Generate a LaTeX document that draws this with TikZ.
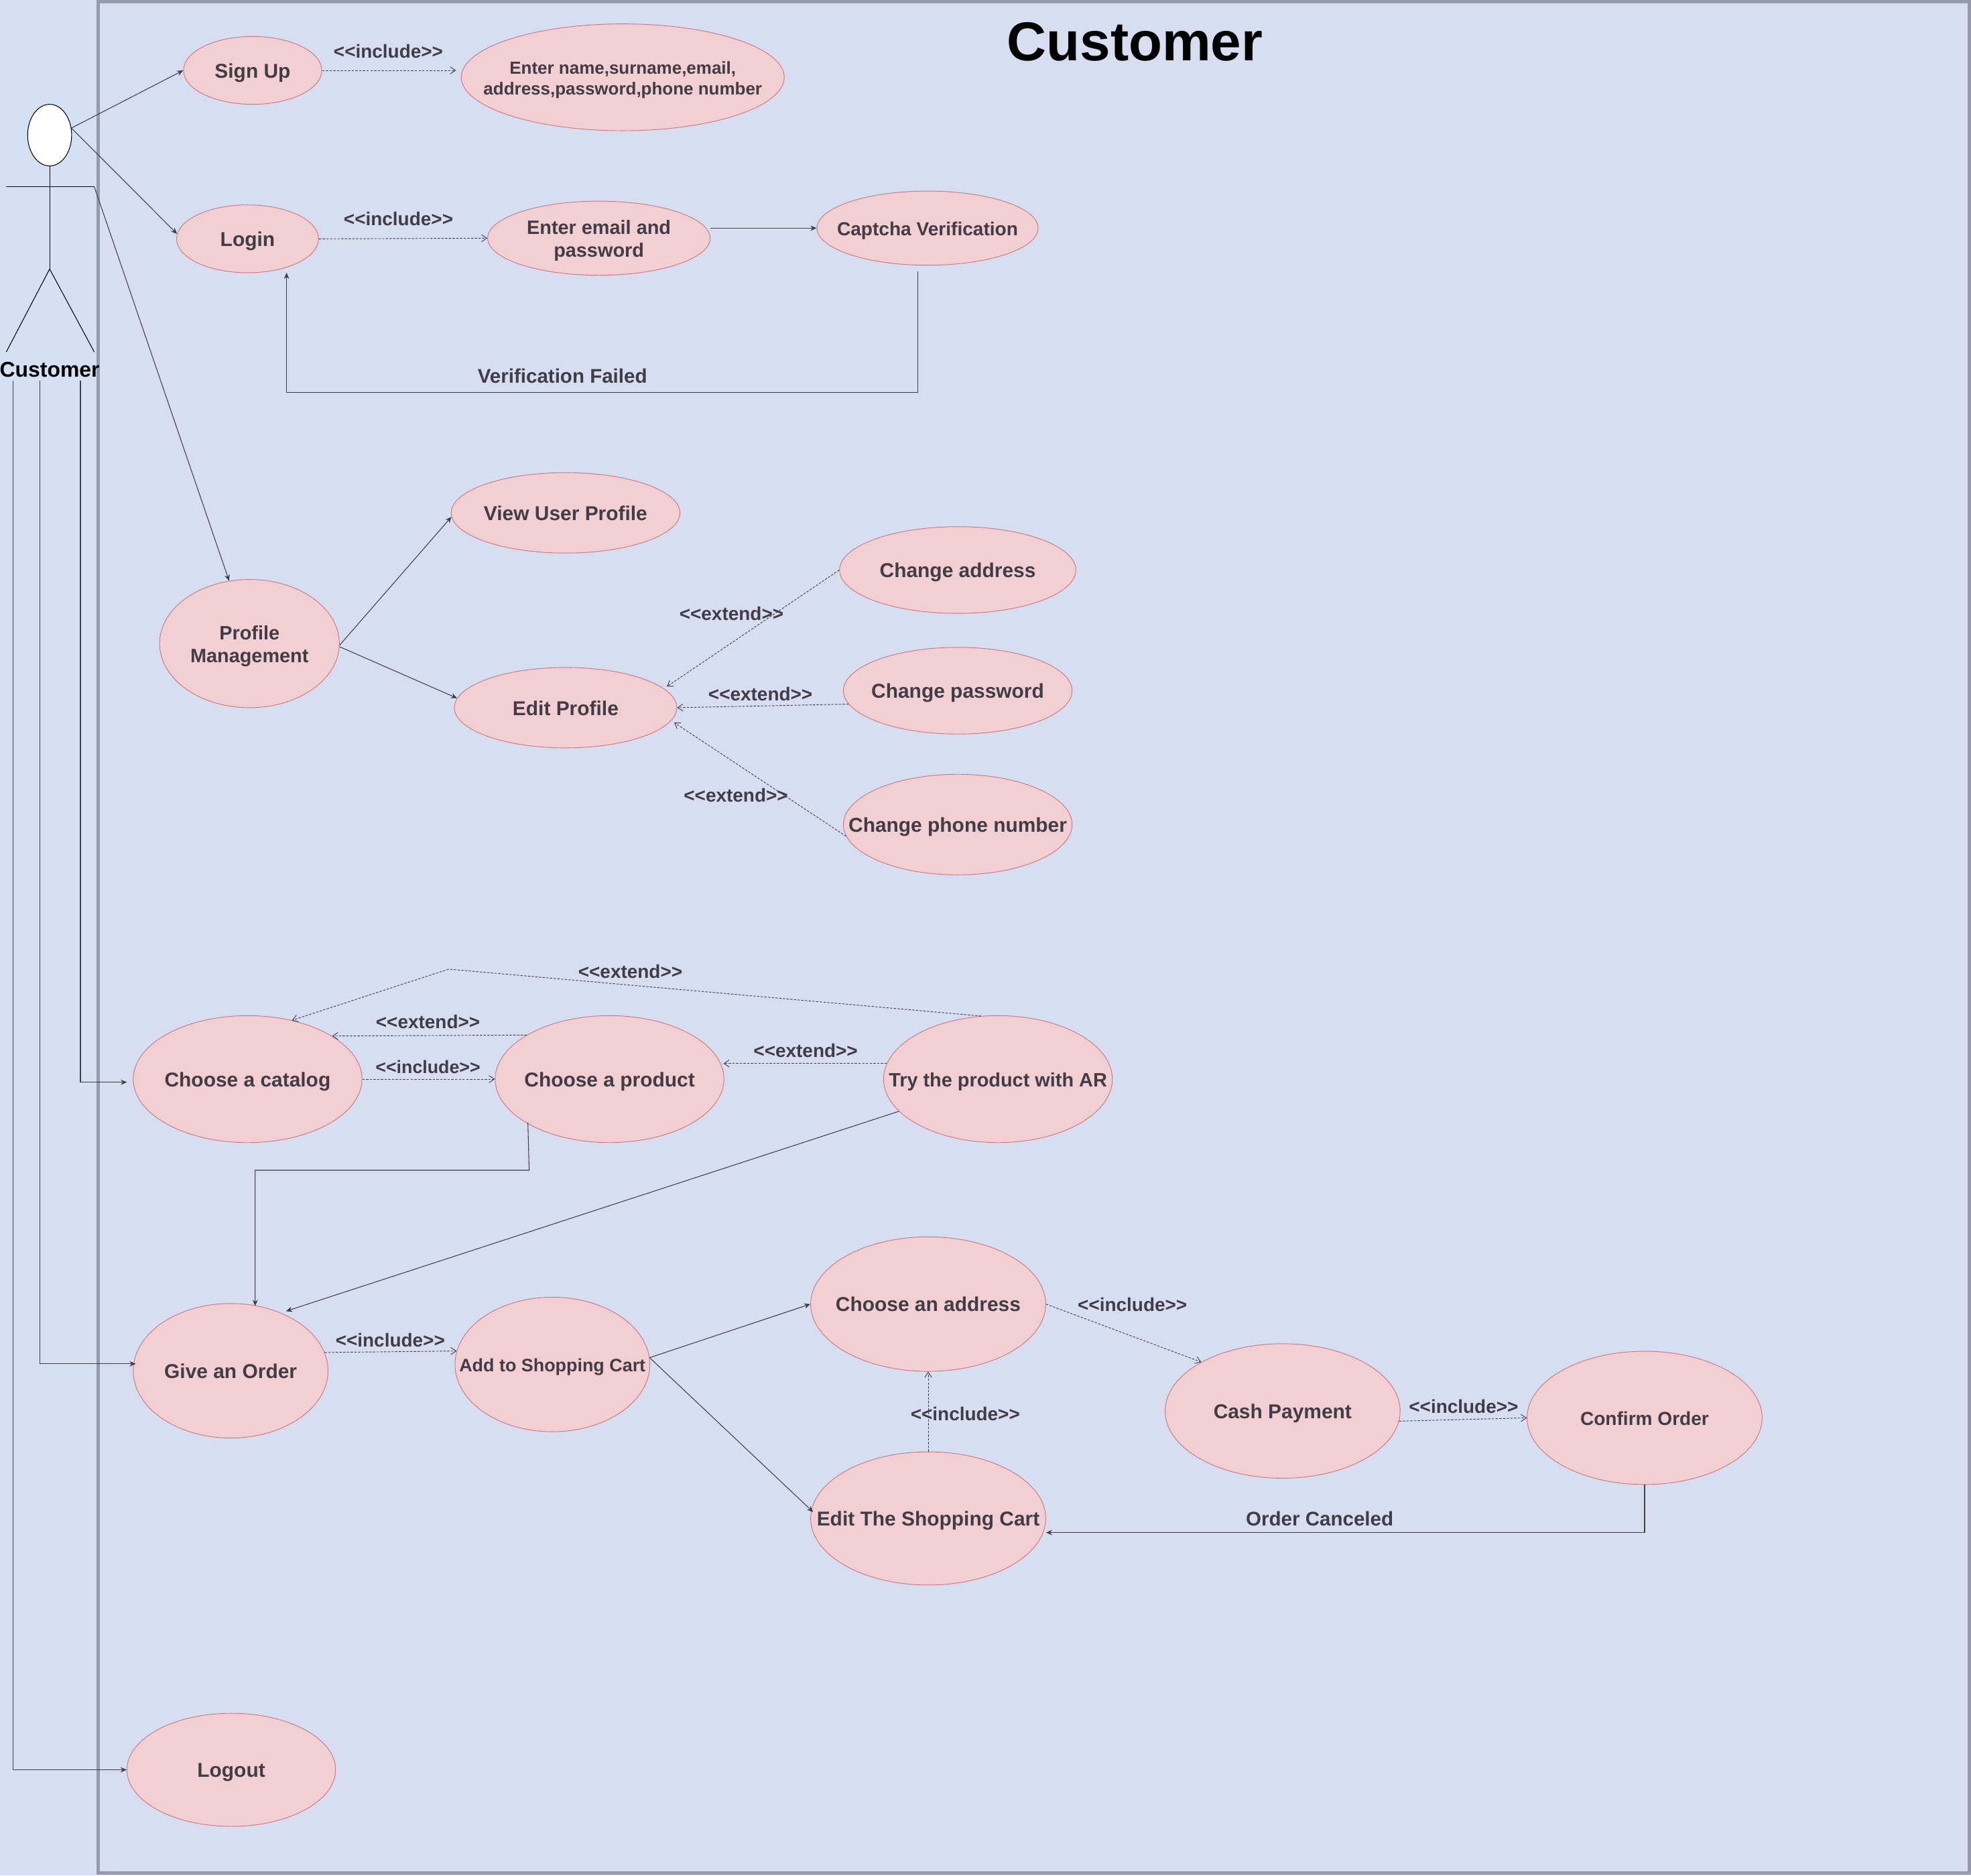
\documentclass[tikz,border=0pt]{standalone}
\usepackage{fontspec}
\usepackage{array}
\setmainfont{Liberation Sans}[Ligatures=TeXOff]
\usetikzlibrary{shapes.geometric,arrows.meta}

\definecolor{outerblue}{HTML}{D4E1F5}
\definecolor{panelblue}{HTML}{D8DEF2}
\definecolor{panelline}{HTML}{959BAD}
\definecolor{casefill}{HTML}{F1CFD3}
\definecolor{caseline}{HTML}{C9767F}
\definecolor{inktext}{HTML}{413C46}

\newcommand{\casetext}[1]{\makebox[0pt]{\raisebox{-8.6pt}[0pt][0pt]{\begin{tabular}{@{}c@{}}#1\end{tabular}}}}

\tikzset{
  usecase/.style 2 args={draw=caseline, fill=casefill, shape=ellipse, inner sep=0pt, line width=0.7pt,
    minimum width=#1*0.05cm, minimum height=#2*0.05cm, text=inktext,
    font=\bfseries\fontsize{22.7}{25.5}\selectfont},
  pairfont/.style={font=\bfseries\fontsize{21.9}{25.5}\selectfont},
  midfont/.style={font=\bfseries\fontsize{21.3}{25.5}\selectfont},
  smallfont/.style={font=\bfseries\fontsize{20.4}{24}\selectfont},
  tinyfont/.style={font=\bfseries\fontsize{19.7}{24}\selectfont},
  tag/.style={text=inktext, inner sep=0pt, font=\bfseries\fontsize{21.2}{25}\selectfont},
  note/.style={text=inktext, inner sep=0pt, font=\bfseries\fontsize{22.4}{25}\selectfont},
  flow/.style={draw=inktext, line width=0.8pt, -{Stealth[length=7pt,width=6pt]}},
  dep/.style={draw=inktext, line width=0.7pt, dash pattern=on 2.6pt off 1.6pt,
    -{Straight Barb[length=6pt,width=8pt]}},
  actorline/.style={draw=black, line width=0.8pt}
}

\begin{document}
\begin{tikzpicture}[x=0.05cm, y=-0.05cm]
\useasboundingbox (0,0) rectangle (1568.2,1492);

\fill[outerblue] (0,0) rectangle (1568.2,1492);
\draw[panelline, fill=panelblue, line width=3.8pt] (78.2,1.2) rectangle (1566.9,1490);

\node[font=\bfseries\fontsize{62}{70}\selectfont, inner sep=0pt] (title) at (903,33) {Customer};

%actor
\node[draw=black, fill=white, shape=ellipse, inner sep=0pt, line width=0.8pt,
  minimum width=35*0.05cm, minimum height=49*0.05cm] (head) at (39.5,107.5) {};
\coordinate (hip) at (39.5,214);
\coordinate (armL) at (5,148.5);
\coordinate (armR) at (75,148.5);
\coordinate (legL) at (5,280);
\coordinate (legR) at (75,280);
\draw[actorline] (head.south) to (hip);
\draw[actorline] (armL) to (armR);
\draw[actorline] (legL) to (hip);
\draw[actorline] (hip) to (legR);
\node[font=\bfseries\fontsize{24.2}{28}\selectfont, inner sep=0pt] (actor) at (39.5,294) {Customer};
\coordinate (downA) at (10.5,303);
\coordinate (downB) at (31.5,303);
\coordinate (downC) at (64,303);

%use cases
\node[usecase={110}{54}] (signup) at (201,56) {\casetext{Sign Up}};
\node[usecase={257}{85}, tinyfont] (details) at (495.5,61.5) {\casetext{Enter name,surname,email,\\address,password,phone number}};
\node[usecase={113}{54}] (login) at (197,190) {\casetext{Login}};
\node[usecase={177}{59}, pairfont] (credentials) at (476.5,189.5) {\casetext{Enter email and\\password\hspace{4pt}}};
\node[usecase={176}{59}, midfont] (captcha) at (738,181.5) {\casetext{Captcha Verification}};

\node[usecase={143}{102}, pairfont] (profile) at (198.5,512) {\casetext{Profile\\Management}};
\node[usecase={182}{64}] (viewuser) at (450,408) {\casetext{View User Profile}};
\node[usecase={177}{64}] (editprofile) at (450,563) {\casetext{Edit Profile}};
\node[usecase={188}{69}] (address) at (762,453.5) {\casetext{Change address}};
\node[usecase={182}{69}] (password) at (762,549.5) {\casetext{Change password}};
\node[usecase={182}{80}] (phone) at (762,656) {\casetext{Change phone number}};

\node[usecase={182}{101}] (catalog) at (197,858.5) {\casetext{Choose a catalog}};
\node[usecase={182}{101}] (product) at (485,858.5) {\casetext{Choose a product}};
\node[usecase={182}{101}, pairfont] (tryar) at (794,858.5) {\casetext{Try the product with AR}};

\node[usecase={155}{107}] (order) at (183.5,1090.5) {\casetext{Give an Order}};
\node[usecase={155}{107}, smallfont] (cart) at (439.5,1085.5) {\casetext{Add to Shopping Cart}};
\node[usecase={187}{107}] (chooseaddr) at (738.5,1037.5) {\casetext{Choose an address}};
\node[usecase={187}{106}] (editcart) at (738.5,1208) {\casetext{Edit The Shopping Cart}};
\node[usecase={187}{107}] (cash) at (1020.5,1122.5) {\casetext{Cash Payment}};
\node[usecase={187}{106}, midfont] (confirm) at (1308.5,1128) {\casetext{Confirm Order}};

\node[usecase={166}{90}] (logout) at (184,1408) {\casetext{Logout}};

%labels
\node[tag] (t1) at (309,41) {<<include>>};
\node[tag] (t2) at (317,174) {<<include>>};
\node[note] (t3) at (447.5,299) {Verification Failed};
\node[tag] (t4) at (582,488) {<<extend>>};
\node[tag] (t5) at (605,552) {<<extend>>};
\node[tag] (t6) at (585.5,632.5) {<<extend>>};
\node[tag] (t7) at (501.5,773) {<<extend>>};
\node[tag] (t8) at (340.5,813) {<<extend>>};
\node[tag, font=\bfseries\fontsize{20.3}{25}\selectfont] (t9) at (340.5,849) {<<include>>};
\node[tag] (t10) at (641,836) {<<extend>>};
\node[tag] (t11) at (310.5,1066) {<<include>>};
\node[tag] (t12) at (901,1038) {<<include>>};
\node[tag] (t13) at (768,1125) {<<include>>};
\node[tag] (t14) at (1164.5,1119) {<<include>>};
\node[note] (t15) at (1050,1208) {Order Canceled};

%free ends
\coordinate (captchaOut) at (730,216);
\coordinate (loginIn) at (228,217);
\coordinate (catalogIn) at (101,861);
\coordinate (orderIn) at (108,1085);
\coordinate (roofTop) at (357,771);
\coordinate (productOut) at (420,893);
\coordinate (orderTop) at (203,1039);

%actor connections
\draw[flow] (head.18) to (signup.west);
\draw[flow] (head.18) to (login.176);
\draw[flow] (armR) to (profile.108);
\draw[flow] (downA) |- (logout.west);
\draw[flow] (downB) |- (orderIn);
\draw[flow] (downC) |- (catalogIn);

%top rows
\draw[dep, shorten >=5.6pt] (signup.east) to (signup.east -| details.west);
\draw[dep] (login.east) to (credentials.west);
\draw[flow] (credentials.east |- captcha.west) to (captcha.west);
\draw[flow] (captchaOut) -- (730,312) -| (loginIn);

%profile
\draw[flow] (profile.359) to (viewuser.182);
\draw[flow] (profile.358) to (editprofile.175);
\draw[dep, shorten >=4pt] (address.west) to (editprofile.11);
\draw[dep] (password.187) to (editprofile.east);
\draw[dep, shorten >=4pt] (phone.186) to (editprofile.353);

%catalog
\draw[dep] (tryar.105.5) -- (roofTop) -- (catalog.53);
\draw[dep] (product.152.6) to (catalog.27.4);
\draw[dep] (catalog.east) to (product.west);
\draw[dep, shorten >=3pt] (tryar.172) to (product.8);
\draw[flow] (productOut) -- (421,931) -| (orderTop);
\draw[flow, shorten >=6pt] (tryar.198) to (order.49);

%order
\draw[dep] (order.11) to (cart.172);
\draw[flow] (cart.4) to (chooseaddr.west);
\draw[flow, shorten >=-3pt] (cart.4) to (editcart.176);
\draw[dep] (chooseaddr.east) to (cash.149.7);
\draw[dep] (editcart.north) to (chooseaddr.south);
\draw[dep] (cash.355.4) to (confirm.west);
\draw[flow, shorten >=3pt] (confirm.south) |- (editcart.353);

\end{tikzpicture}
\end{document}
